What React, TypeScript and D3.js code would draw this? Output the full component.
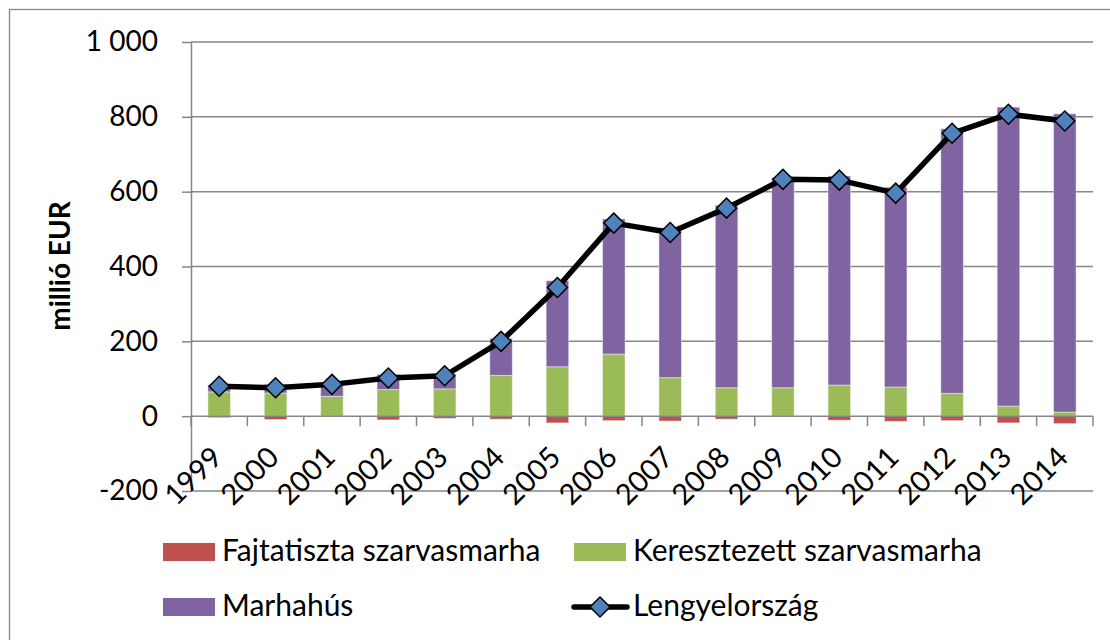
import React from 'react';
import * as d3 from 'd3';

// adatok (millió EUR)
const years = ['1999', '2000', '2001', '2002', '2003', '2004', '2005', '2006', '2007', '2008', '2009', '2010', '2011', '2012', '2013', '2014'];
const fajtatiszta = [-4, -9, 0, -10, -6, -8, -18, -12, -13, -8, 0, -11, -14, -12, -18, -20];
const keresztezett = [65, 62, 53, 71, 73, 109, 132, 166, 103, 76, 76, 83, 78, 61, 27, 11];
const marhahus = [19, 23, 32, 41, 40, 99, 230, 361, 401, 488, 562, 559, 534, 707, 799, 797];
const lengyelorszag = [80, 76, 85, 102, 108, 200, 344, 516, 491, 556, 633, 631, 596, 756, 807, 789];
const yTicks = [-200, 0, 200, 400, 600, 800, 1000];

const seriesNames = ['Fajtatiszta szarvasmarha', 'Keresztezett szarvasmarha', 'Marhahús', 'Lengyelország'];
const colors = ['#C0504D', '#9BBB59', '#8064A2'];
const FONT = 'Lato, "Noto Sans", sans-serif';

class App extends React.Component {
  chartRef: any = null;

  componentDidMount() {
    const svg = d3.select(this.chartRef);
    svg.selectAll('*').remove();
    const margin = { top: 42, right: 1093, bottom: 491, left: 191 };

    // keret
    svg.append('rect')
      .attr('x', 9.5).attr('y', 9.5)
      .attr('width', 1120).attr('height', 660)
      .attr('fill', 'white').attr('stroke', '#868686').attr('stroke-width', 1.3);

    const x = d3.scaleBand().domain(years).range([margin.left, margin.right]).paddingInner(0.6).paddingOuter(0.3);
    const y = d3.scaleLinear().domain([-200, 1000]).range([margin.bottom, margin.top]);

    // rácsvonalak
    svg.append('g').selectAll('line')
      .data(yTicks.filter(d => d !== 0))
      .enter().append('line')
      .attr('x1', margin.left).attr('x2', margin.right)
      .attr('y1', d => y(d)).attr('y2', d => y(d))
      .attr('stroke', '#868686').attr('stroke-width', 1.5);

    // y tengely
    const fmt = d3.formatLocale({ decimal: ',', thousands: ' ', grouping: [3], currency: ['', ''], minus: '-' }).format(',d');
    const yAxis = d3.axisLeft(y).tickValues(yTicks).tickSize(9).tickSizeOuter(0).tickPadding(24).tickFormat(d => fmt(d as number));
    const ga = svg.append('g').attr('transform', `translate(${margin.left},0)`).call(yAxis);
    ga.select('.domain').attr('stroke', '#868686').attr('stroke-width', 1.5);
    ga.selectAll('line').attr('stroke', '#868686').attr('stroke-width', 1.5);
    ga.selectAll('text').attr('font-family', FONT).attr('font-size', 28).attr('fill', '#000');

    // tengelycím
    svg.append('text')
      .attr('transform', 'translate(70,266) rotate(-90)')
      .attr('text-anchor', 'middle')
      .attr('font-family', FONT).attr('font-weight', 'bold').attr('font-size', 28)
      .text('millió EUR');

    // halmozott oszlopok
    const table = years.map((yr, i) => ({ year: yr, a: fajtatiszta[i], b: keresztezett[i], c: marhahus[i] }));
    const stack = d3.stack().keys(['a', 'b', 'c']).offset(d3.stackOffsetDiverging);
    const layers = stack(table as any);
    svg.append('g').selectAll('g')
      .data(layers)
      .enter().append('g')
      .attr('fill', (d, i) => colors[i])
      .selectAll('rect')
      .data(d => d)
      .enter().append('rect')
      .attr('x', (d: any) => x(d.data.year))
      .attr('width', x.bandwidth())
      .attr('y', d => y(Math.max(d[0], d[1])))
      .attr('height', d => Math.abs(y(d[0]) - y(d[1])))
      .attr('stroke', 'rgba(255,255,255,0.45)').attr('stroke-width', 1);

    // x tengely (0-nál)
    const y0 = y(0);
    svg.append('line')
      .attr('x1', margin.left).attr('x2', margin.right)
      .attr('y1', y0).attr('y2', y0)
      .attr('stroke', '#868686').attr('stroke-width', 1.5);
    svg.append('g').selectAll('line')
      .data(d3.range(years.length + 1))
      .enter().append('line')
      .attr('x1', i => margin.left + i * x.step()).attr('x2', i => margin.left + i * x.step())
      .attr('y1', y0).attr('y2', y0 + 10)
      .attr('stroke', '#868686').attr('stroke-width', 1.5);
    const cx = (yr: string) => (x(yr) as number) + x.bandwidth() / 2;
    svg.append('g').selectAll('text')
      .data(years)
      .enter().append('text')
      .attr('transform', d => `translate(${cx(d) + 5},${y0 + 43}) rotate(-45)`)
      .attr('text-anchor', 'end')
      .attr('font-family', FONT).attr('font-size', 29)
      .text(d => d);

    // vonal
    const line = d3.line<number>().x((d, i) => cx(years[i])).y(d => y(d));
    svg.append('path')
      .attr('d', line(lengyelorszag))
      .attr('fill', 'none').attr('stroke', '#000').attr('stroke-width', 5.5)
      .attr('stroke-linejoin', 'round');
    const diamond = d3.symbol(d3.symbolSquare, 200);
    svg.append('g').selectAll('path')
      .data(lengyelorszag)
      .enter().append('path')
      .attr('d', diamond())
      .attr('transform', (d, i) => `translate(${cx(years[i])},${y(d)}) rotate(45)`)
      .attr('fill', '#4F81BD').attr('stroke', '#000').attr('stroke-width', 1.5);

    // jelmagyarázat
    const legendPos = [[163, 543], [574, 543], [163, 598], [574, 598]];
    const lg = svg.append('g');
    seriesNames.forEach((name, i) => {
      const [lx, ly] = legendPos[i];
      if (i < 3) {
        lg.append('rect').attr('x', lx).attr('y', ly).attr('width', 52).attr('height', 18).attr('fill', colors[i]);
      } else {
        lg.append('line').attr('x1', lx).attr('x2', lx + 53).attr('y1', ly + 9).attr('y2', ly + 9)
          .attr('stroke', '#000').attr('stroke-width', 5.5).attr('stroke-linecap', 'round');
        lg.append('path').attr('d', diamond()).attr('transform', `translate(${lx + 26},${ly + 9}) rotate(45)`)
          .attr('fill', '#4F81BD').attr('stroke', '#000').attr('stroke-width', 1.5);
      }
      lg.append('text')
        .attr('x', lx + 59).attr('y', ly + 18)
        .attr('font-family', FONT).attr('font-size', 30)
        .text(name);
    });
  }

  render() {
    return (
      <div style={{ position: 'absolute', left: 0, top: 0, width: 1110, height: 640, overflow: 'hidden' }}>
        <svg width={1110} height={640} ref={r => (this.chartRef = r)} />
      </div>
    );
  }
}

export default App;
